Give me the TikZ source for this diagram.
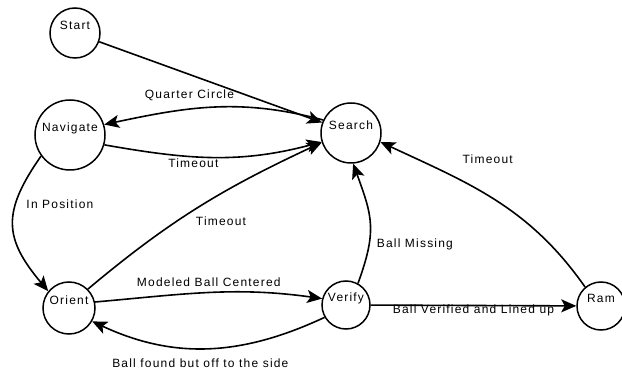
\documentclass[tikz,border=0pt]{standalone}
\usepackage{fontspec}
\setmainfont{Liberation Sans}[LetterSpace=10]
\usetikzlibrary{automata, positioning, arrows.meta}
\tikzstyle{arrow} = [line width=1.6pt,-{Stealth[length=15pt,width=13pt,inset=3.5pt]}]
\tikzstyle{lbl} = [inner sep=1pt]

\begin{document}
\begin{tikzpicture}[x=1pt,y=1pt,on grid,font=\fontsize{12}{14}\selectfont,
    every state/.style={draw,line width=1.5pt,inner sep=0.5pt,text height=9pt,text depth=15pt}]
    \useasboundingbox (0,0) rectangle (622,370);
   	\node[state,minimum size=60pt] (search) at (351,237) {Search};
   	\node[state,minimum size=70pt][below left=2pt and 281pt of search](navigate){Navigate};
   	\node[state,minimum size=50pt][above right=102pt and 5pt of navigate](start){Start};
   	\node[state,minimum size=52pt][below left=173pt and 1pt of navigate](orient){Orient};
   	\node[state,minimum size=48pt][above right=3pt and 277pt of orient](verify){Verify};
   	\node[state,minimum size=48pt][below right=1pt and 255pt of verify](ram){Ram};
    \path[arrow]
    (start) edge (search)
    (search.155) edge[out=165,in=12] node[lbl,pos=0.62,yshift=14.5pt] {Quarter Circle} (navigate.17)
    (navigate.-16) edge[out=-10,in=195] node[lbl,pos=0.4,yshift=-7pt] {Timeout} (search.197)
    (navigate.216) edge[out=235,in=130,looseness=1.3] node[lbl,pos=0.33,anchor=west,xshift=9pt] {In Position} (orient.141)
    (orient.45) edge[out=40,in=205] node[lbl,pos=0.6,yshift=-27pt] {Timeout} (search.198)
    (orient.13) edge[out=5,in=172] node[lbl,pos=0.5,yshift=11pt] {Modeled Ball Centered} (verify.165)
    (verify.210) edge[out=205,in=-25] node[lbl,pos=0.5,xshift=-8pt,yshift=-15pt] {Ball found but off to the side} (orient.-30)
    (verify.61) edge[out=70,in=-70,looseness=1.2] node[lbl,pos=0.3,anchor=west,xshift=6pt] {Ball Missing} (search.-86)
    (verify) edge node[lbl,pos=0.5,yshift=-4.5pt] {Ball Verified and Lined up} (ram)
    (ram.130) edge[out=125,in=-25] node[lbl,pos=0.6,xshift=13pt,yshift=29pt] {Timeout} (search.-17);
\end{tikzpicture}
\end{document}
